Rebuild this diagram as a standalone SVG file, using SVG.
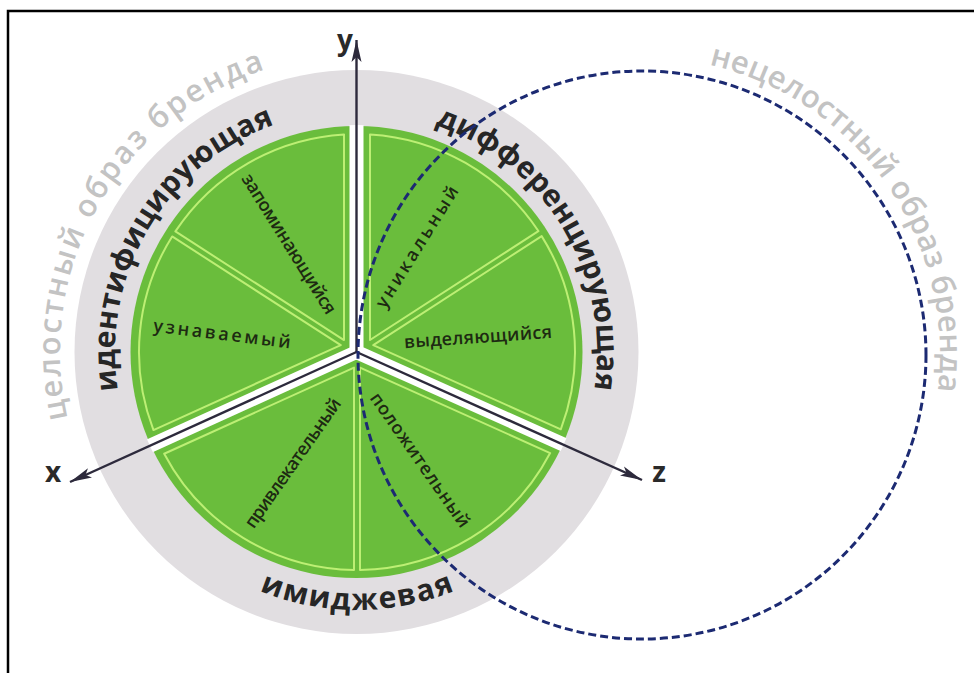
<svg xmlns="http://www.w3.org/2000/svg" width="974" height="673" viewBox="0 0 974 673">
<defs>
<style>
.frame{stroke:#000;stroke-width:2.5;fill:none}
.gray{fill:#e1dee1}
.green{fill:#6abd3c}
.gap{stroke:#fff;stroke-width:14;fill:none}
.lite{fill:none;stroke:#bdef74;stroke-width:2;stroke-linejoin:round}
.axis{stroke:#2d2a3c;stroke-width:2.4;fill:none;marker-end:url(#arr)}
.dash{fill:none;stroke:#1c2a72;stroke-width:3;stroke-dasharray:8 4}
.outer{font-family:"Open Sans","DejaVu Sans",sans-serif;font-size:31px;font-weight:600;fill:#c3c3c3;text-anchor:middle}
.band{font-family:"Open Sans","DejaVu Sans",sans-serif;font-size:30px;font-weight:700;fill:#262626;text-anchor:middle}
.lbl{font-family:"Open Sans","DejaVu Sans",sans-serif;font-size:18px;font-weight:600;fill:#1d2a12;text-anchor:middle}
.ax{font-family:"Open Sans","DejaVu Sans",sans-serif;font-size:28px;font-weight:700;fill:#2a2a2a;text-anchor:middle}
</style>
<marker id="arr" markerUnits="userSpaceOnUse" markerWidth="24" markerHeight="12" refX="22" refY="6" orient="auto"><path d="M0,1 L22,6 L0,11 L5,6 Z" fill="#2d2a3c"/></marker>
<clipPath id="gclip"><circle cx="356.5" cy="352" r="227"/></clipPath>
<path id="p-cel" d="M101.1,502.7 A297,297 0 0 1 354.4,55"/>
<path id="p-ident" d="M146.4,471.2 A242,242 0 0 1 359.1,110"/>
<path id="p-diff" d="M352.8,112 A240,240 0 0 1 566.9,468.4"/>
<path id="p-imid" d="M133.6,481 A258,258 0 0 0 580.4,481"/>
<path id="p-necel" d="M616,58.1 A298,298 0 0 1 912.1,480.9"/>
</defs>

<path class="frame" d="M8,673 V11 H974"/>

<g id="brand-whole">
<circle class="gray" cx="356.5" cy="352" r="282"/>
<circle class="green" cx="356.5" cy="352" r="226"/>
<g clip-path="url(#gclip)">
<path class="gap" d="M356.5,352 V100 M356.5,352 L60,486.6 M356.5,352 L653,484.6"/>
<circle cx="356.5" cy="352" r="8" fill="#fff"/>
</g>
</g>

<g id="sector-uznavaemy">
<path class="lite" d="M340.75,345.1 L153.46,430.05 A218,218 0 0 1 172.14,236.44 Z"/>
<text class="lbl" transform="translate(222,334) rotate(7)" y="6" font-size="19" textLength="138" lengthAdjust="spacing">узнаваемый</text>
</g>
<g id="sector-zapominayushchiysya">
<path class="lite" d="M344,340.05 L175.4,231.4 A218,218 0 0 1 344,134.4 Z"/>
<text class="lbl" transform="translate(289,244) rotate(58)" y="6" font-size="17" textLength="162" lengthAdjust="spacing">запоминающийся</text>
</g>
<g id="sector-unikalny">
<path class="lite" d="M370,340 L370,134.4 A218,218 0 0 1 538.39,231.07 Z"/>
<text class="lbl" transform="translate(417,247) rotate(-58)" y="6" font-size="19" textLength="140" lengthAdjust="spacing">уникальный</text>
</g>
<g id="sector-vydelyayushchiysya">
<path class="lite" d="M373.26,345.05 L541.65,236.11 A218,218 0 0 1 560.8,429.33 Z"/>
<text class="lbl" transform="translate(478,337) rotate(-4)" y="6" font-size="17" textLength="148" lengthAdjust="spacing">выделяющийся</text>
</g>
<g id="sector-polozhitelny">
<path class="lite" d="M360,367.6 L550.14,453.05 A218,218 0 0 1 360,569.98 Z"/>
<text class="lbl" transform="translate(420,460) rotate(55)" y="6" font-size="18" textLength="160" lengthAdjust="spacing">положительный</text>
</g>
<g id="sector-privlekatelny">
<path class="lite" d="M354,367.63 L354,569.98 A218,218 0 0 1 164.2,453.73 Z"/>
<text class="lbl" transform="translate(293,463) rotate(-55)" y="6" font-size="16" textLength="154" lengthAdjust="spacing">привлекательный</text>
</g>

<g id="band-labels">
<text class="band"><textPath href="#p-ident" startOffset="50%" textLength="334" lengthAdjust="spacing">идентифицирующая</textPath></text>
<text class="band"><textPath href="#p-diff" startOffset="50%" textLength="335" lengthAdjust="spacing">дифференцирующая</textPath></text>
<text class="band"><textPath href="#p-imid" startOffset="50%" textLength="200" lengthAdjust="spacing">имиджевая</textPath></text>
</g>

<g id="connectors">
<line class="axis" x1="356.5" y1="352" x2="356.5" y2="40"/>
<line class="axis" x1="356.5" y1="352" x2="70" y2="482"/>
<line class="axis" x1="356.5" y1="352" x2="642" y2="480"/>
</g>

<g id="axis-labels">
<text class="ax" x="345" y="50">y</text>
<text class="ax" x="53" y="482">x</text>
<text class="ax" x="659" y="482">z</text>
</g>

<g id="brand-partial">
<circle class="dash" cx="642" cy="355" r="284"/>
</g>

<g id="outer-labels">
<text class="outer"><textPath href="#p-cel" startOffset="50%" textLength="440" lengthAdjust="spacing">целостный образ бренда</textPath></text>
<text class="outer"><textPath href="#p-necel" startOffset="50%" textLength="437" lengthAdjust="spacing">нецелостный образ бренда</textPath></text>
</g>
</svg>
